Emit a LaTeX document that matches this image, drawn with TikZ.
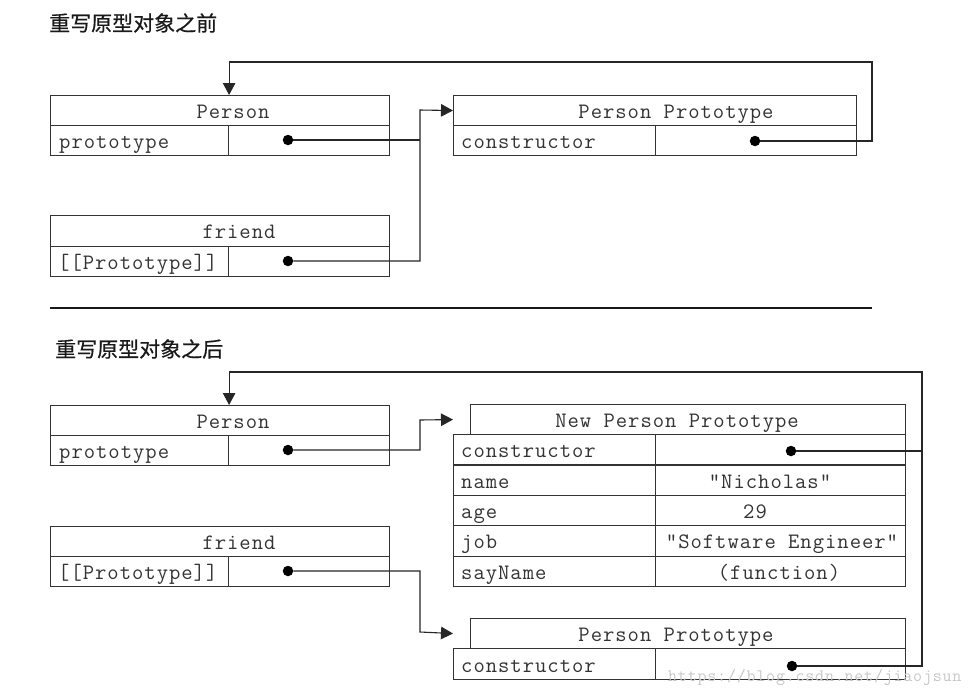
\documentclass[tikz,border=0pt]{standalone}
\usepackage{fontspec}
\newfontfamily\codefont{Latin Modern Mono}[LetterSpace=4.5]
\newfontfamily\cjk{Noto Sans CJK SC}[FakeBold=0.5]
\usetikzlibrary{arrows.meta}
\begin{document}
\begin{tikzpicture}[x=1pt,y=-1pt,
  cell/.style={draw=black!80,line width=1.1pt,inner sep=0pt,anchor=north west,minimum height=30pt},
  txt/.style={font=\codefont\fontsize{22}{24}\selectfont,text=black!80,inner sep=0pt},
  key/.style={txt,anchor=base west},
  val/.style={txt,anchor=base},
  dotn/.style={circle,fill=black,inner sep=0pt,minimum size=10.5pt},
  link/.style={draw=black!85,line width=1.1pt},
  arr/.style={link,-{Triangle[length=12pt,width=12.5pt]}},
  ttl/.style={font=\cjk\fontsize{21}{24}\selectfont,anchor=west,inner sep=0pt,text=black!90}
]
\useasboundingbox[fill=white] (0,0) rectangle (979,696);

% titles
\node[ttl] (t1) at (49,23) {重写原型对象之前};
\node[ttl] (t2) at (55,349) {重写原型对象之后};

% separator
\draw[line width=2.4pt,black!90] (50,308) -- (872,308);

% ---------- top: Person
\node[cell,minimum width=339pt] (p1h) at (50,95) {};
\node[cell,minimum width=178pt] (p1k) at (50,125) {};
\node[cell,minimum width=161pt] (p1v) at (228,125) {};
\node[val] (p1ht) at (233,118) {Person};
\node[key] (p1kt) at (59,148) {prototype};
\node[dotn] (p1dot) at (288,140) {};

% top: friend
\node[cell,minimum width=339pt,minimum height=30.5pt] (f1h) at (50,215) {};
\node[cell,minimum width=178pt,minimum height=30.5pt] (f1k) at (50,245.5) {};
\node[cell,minimum width=161pt,minimum height=30.5pt] (f1v) at (228,245.5) {};
\node[val] (f1ht) at (239,238) {friend};
\node[key] (f1kt) at (58,269) {[[Prototype]]};
\node[dotn] (f1dot) at (288,261) {};

% top: Person Prototype
\node[cell,minimum width=403pt] (pp1h) at (453,95) {};
\node[cell,minimum width=202pt] (pp1k) at (453,125) {};
\node[cell,minimum width=201pt] (pp1v) at (655,125) {};
\node[val] (pp1ht) at (676,118) {Person Prototype};
\node[key] (pp1kt) at (461,148) {constructor};
\node[dotn] (pp1dot) at (755,141) {};

\coordinate (j1) at (420,110);
\coordinate (r1) at (872,62);
\draw[link] (p1dot) -- (p1dot -| j1);
\draw[arr] (f1dot) -| (j1) -- (pp1h.west);
\draw[arr] (pp1dot) -| (r1) -| (p1h.north -| p1k.east);

% ---------- bottom: Person
\node[cell,minimum width=339pt] (p2h) at (50,405) {};
\node[cell,minimum width=178pt] (p2k) at (50,435) {};
\node[cell,minimum width=161pt] (p2v) at (228,435) {};
\node[val] (p2ht) at (233,428) {Person};
\node[key] (p2kt) at (59,458) {prototype};
\node[dotn] (p2dot) at (288,450) {};

% bottom: friend
\node[cell,minimum width=339pt] (f2h) at (50,526) {};
\node[cell,minimum width=178pt] (f2k) at (50,556) {};
\node[cell,minimum width=161pt] (f2v) at (228,556) {};
\node[val] (f2ht) at (239,549) {friend};
\node[key] (f2kt) at (58,579) {[[Prototype]]};
\node[dotn] (f2dot) at (288,571) {};

% bottom: New Person Prototype
\node[cell,minimum width=435pt] (nph) at (470,404) {};
\node[cell,minimum width=202pt,minimum height=30.4pt] (npk1) at (453,434) {};
\node[cell,minimum width=250pt,minimum height=30.4pt] (npv1) at (655,434) {};
\node[cell,minimum width=202pt,minimum height=30.4pt] (npk2) at (453,464.4) {};
\node[cell,minimum width=250pt,minimum height=30.4pt] (npv2) at (655,464.4) {};
\node[cell,minimum width=202pt,minimum height=30.4pt] (npk3) at (453,494.8) {};
\node[cell,minimum width=250pt,minimum height=30.4pt] (npv3) at (655,494.8) {};
\node[cell,minimum width=202pt,minimum height=30.4pt] (npk4) at (453,525.2) {};
\node[cell,minimum width=250pt,minimum height=30.4pt] (npv4) at (655,525.2) {};
\node[cell,minimum width=202pt,minimum height=30.4pt] (npk5) at (453,555.6) {};
\node[cell,minimum width=250pt,minimum height=30.4pt] (npv5) at (655,555.6) {};
\node[val] (npht) at (677,427) {New Person Prototype};
\node[key] (npk1t) at (461,457.5) {constructor};
\node[key] (npk2t) at (461,488) {name};
\node[key] (npk3t) at (461,518.3) {age};
\node[key] (npk4t) at (461,548.7) {job};
\node[key] (npk5t) at (461,579) {sayName};
\node[dotn] (npdot) at (791,451) {};
\node[val] (npv2t) at (770,488) {"Nicholas"};
\node[val] (npv3t) at (755,518.3) {29};
\node[val] (npv4t) at (782,548.7) {"Software Engineer"};
\node[val] (npv5t) at (779,579) {(function)};

% bottom: Person Prototype
\node[cell,minimum width=435pt] (pph2) at (470,618) {};
\node[cell,minimum width=202pt,minimum height=31pt] (ppk2) at (453,648) {};
\node[cell,minimum width=250pt,minimum height=31pt] (ppv2) at (655,648) {};
\node[val] (pph2t) at (676,641) {Person Prototype};
\node[key] (ppk2t) at (461,672) {constructor};
\node[dotn] (ppdot2) at (792,666) {};

\coordinate (j2) at (420,420);
\coordinate (j3) at (420,632);
\coordinate (r2) at (922,372);
\draw[arr] (p2dot) -| (j2) -- (nph.west -| npk1.west);
\draw[arr] (f2dot) -| (j3) -- (pph2.west -| ppk2.west);
\draw[link] (npdot) -- (npdot -| r2);
\draw[arr] (ppdot2) -| (r2) -| (p2h.north -| p2k.east);

% watermark
\node[anchor=base west,inner sep=0pt,font=\codefont\fontsize{17.5}{20}\selectfont,text=black!22] (wm) at (668,681) {https://blog.csdn.net/jiaojsun};
\end{tikzpicture}
\end{document}
